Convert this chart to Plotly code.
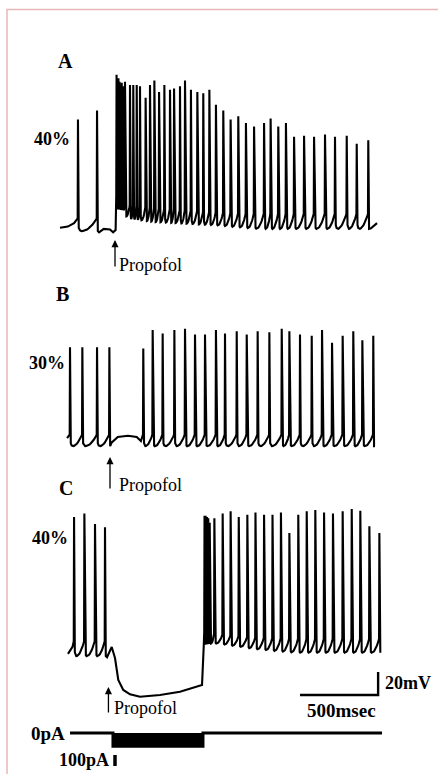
import numpy as np
import plotly.graph_objects as go

# ---------------- data ----------------
# Panel A (40%): spike times (ms) and spike peak potentials (mV)
A_spike_t = [115, 237,
             362, 368, 374, 381, 387, 395, 403,
             416, 448, 469, 491, 512, 548, 576, 604, 634, 668,
             704, 730, 768, 800, 838, 879, 917, 956, 998, 1045,
             1092, 1141, 1190, 1242, 1306, 1348, 1397, 1446, 1498, 1562,
             1626, 1696, 1760, 1835, 1899, 1973]
A_spike_v = [36, 44,
             75, 70, 72, 69, 66, 68, 65,
             69, 66, 66, 66, 65, 55, 66, 70, 60, 66,
             62, 63, 65, 70, 62, 60, 59, 62, 49, 44,
             36, 39, 33, 30, 33, 37, 30, 33, 21, 22,
             21, 23, 21, 22, 15, 18]
# non-spiking stretches of trace A (ms, mV)
A_quiet_t = [0, 50, 90, 108, 250, 280, 320, 340, 356, 1990, 2029]
A_quiet_v = [-58, -57, -54, -51, -62, -59, -59.5, -62, -60, -58.5, -54]
# afterhyperpolarisation trough / firing threshold levels along trace A
A_lvl_t = [0, 355, 362, 405, 420, 600, 1000, 1250, 2030]
A_trough = [-61, -61, -42, -43, -50, -53, -56, -59, -59]
A_thresh = [-50, -50, -30, -32, -38, -41, -45, -46, -46]

# Panel B (30%)
B_spike_t = [64, 143, 237, 316,
             533, 593, 657, 732, 800, 864, 928, 998, 1056, 1131,
             1195, 1265, 1340, 1419, 1468, 1536, 1611, 1677, 1741, 1809,
             1877, 1935, 2005]
B_spike_v = [25, 25, 25, 25,
             24, 40, 37, 40, 41, 36, 36, 40, 37, 39,
             36, 39, 38, 41, 39, 36, 35, 40, 29, 35,
             39, 31, 35]
B_quiet_t = [45, 330, 370, 435, 491, 518, 2016]
B_quiet_v = [-54, -58, -53, -52, -53, -56.5, -61]
B_lvl_t = [0, 2100]
B_trough = [-61, -61]
B_thresh = [-51, -51]

# Panel C (40%)
C_spike_t = [90, 156, 224, 288,
             925, 932, 941, 949, 958,
             988, 1041, 1092, 1144, 1199, 1251, 1306, 1360, 1414, 1468,
             1525, 1579, 1634, 1690, 1747, 1809, 1867, 1922, 1980, 2044]
C_spike_v = [60, 63, 54, 51,
             61, 61, 60, 59, 55,
             59, 63, 65, 60, 62, 64, 62, 62, 64, 46,
             62, 65, 66, 64, 63, 65, 67, 65.5, 52, 46]
C_quiet_t = [51, 80, 301, 331, 352, 373, 405, 448, 512, 640, 768, 896, 909, 920, 2050]
C_quiet_v = [-59, -53, -62, -53, -62.6, -81.7, -90.4, -94.2, -96.3, -94.8, -91.9, -86.7, -86, -52, -58]
C_lvl_t = [0, 300, 900, 960, 1000, 1250, 1500, 2100]
C_trough = [-61, -61, -52, -50, -50, -55, -58, -58]
C_thresh = [-48, -48, -40, -40, -42, -45, -46, -46]

# Injected current (pA)
I_t = [64, 339, 339, 915, 915, 2061]
I_pA = [0, 0, -120, -120, 0, 0]

SCALE_MS = 500
SCALE_MV = 20
SCALE_PA = 100

# ---------------- layout constants ----------------
W, H = 438, 774
MS_PER_PX = 6.4
X0_PX = 60
PX_PER_MV = 1.15
PX_PER_PA = 0.11
FONT = "Liberation Serif"


def yrange(base_px, base_val, px_per_unit):
    return [base_val - (H - base_px) / px_per_unit, base_val + base_px / px_per_unit]


def P(xp, yp):
    return xp / W, 1 - yp / H


def build(spk_t, spk_v, q_t, q_v, lvl_t, lvl_tr, lvl_th, n_ramp=14):
    q_t = np.asarray(q_t, float)
    q_v = np.asarray(q_v, float)
    t_out, v_out = [], []
    m = q_t < spk_t[0]
    t_out += q_t[m].tolist()
    v_out += q_v[m].tolist()
    n = len(spk_t)
    for i in range(n):
        a = spk_t[i]
        prev_isi = a - spk_t[i - 1] if i > 0 else 50
        rise = min(2.0, 0.25 * prev_isi)
        th = float(np.interp(a, lvl_t, lvl_th))
        if not (t_out and abs(t_out[-1] - (a - rise)) < 1e-6):
            t_out.append(a - rise)
            v_out.append(th)
        t_out.append(a)
        v_out.append(spk_v[i])
        b = spk_t[i + 1] if i + 1 < n else np.inf
        isi = b - a if i + 1 < n else 50
        fall = min(5.0, 0.45 * isi)
        tr = float(np.interp(a, lvl_t, lvl_tr))
        m = (q_t > a) & (q_t < b)
        if m.any() or i + 1 == n:
            t_out.append(a + fall)
            v_out.append(tr)
            t_out += q_t[m].tolist()
            v_out += q_v[m].tolist()
        else:
            nrise = min(2.0, 0.25 * isi)
            th2 = float(np.interp(b, lvl_t, lvl_th))
            a1, b1 = a + fall, b - nrise
            u = np.linspace(0, 1, n_ramp)
            c = 0.15
            s = np.where(u >= c, ((u - c) / (1 - c)) ** 2, 0.25 * ((c - u) / c) ** 2)
            t_out += (a1 + u * (b1 - a1)).tolist()
            v_out += (tr + (th2 - tr) * s).tolist()
    return t_out, v_out


fig = go.Figure()
LINE = dict(color="black", width=2.1)

for (st, sv, qt, qv, lt, ltr, lth, ax) in [
    (A_spike_t, A_spike_v, A_quiet_t, A_quiet_v, A_lvl_t, A_trough, A_thresh, "y"),
    (B_spike_t, B_spike_v, B_quiet_t, B_quiet_v, B_lvl_t, B_trough, B_thresh, "y2"),
    (C_spike_t, C_spike_v, C_quiet_t, C_quiet_v, C_lvl_t, C_trough, C_thresh, "y3"),
]:
    tt, vv = build(st, sv, qt, qv, lt, ltr, lth)
    fig.add_trace(go.Scatter(x=tt, y=vv, mode="lines", line=LINE, yaxis=ax,
                             hoverinfo="skip", showlegend=False))

# scale bars (on panel C axes)
sb_t0 = 1536
sb_v0 = -94.8
fig.add_trace(go.Scatter(x=[sb_t0, sb_t0 + SCALE_MS, sb_t0 + SCALE_MS],
                         y=[sb_v0, sb_v0, sb_v0 + SCALE_MV],
                         mode="lines", line=dict(color="black", width=2.4),
                         yaxis="y3", hoverinfo="skip", showlegend=False))

# current trace
fig.add_trace(go.Scatter(x=I_t, y=I_pA, mode="lines", fill="tozeroy",
                         fillcolor="black", line=dict(color="black", width=3),
                         yaxis="y4", hoverinfo="skip", showlegend=False))
fig.add_trace(go.Scatter(x=[352, 352], y=[-200, -200 - SCALE_PA], mode="lines",
                         line=dict(color="black", width=3.5), yaxis="y4",
                         hoverinfo="skip", showlegend=False))

xr = [(0 - X0_PX) * MS_PER_PX, (W - X0_PX) * MS_PER_PX]
hid = dict(visible=False, fixedrange=True)
fig.update_layout(
    width=W, height=H, autosize=False,
    margin=dict(l=0, r=0, t=0, b=0),
    paper_bgcolor="white", plot_bgcolor="white",
    xaxis=dict(range=xr, domain=[0, 1], **hid),
    yaxis=dict(range=yrange(230, -60, PX_PER_MV), domain=[0, 1], **hid),
    yaxis2=dict(range=yrange(445, -60, PX_PER_MV), overlaying="y", **hid),
    yaxis3=dict(range=yrange(655, -60, PX_PER_MV), overlaying="y", **hid),
    yaxis4=dict(range=yrange(733, 0, PX_PER_PA), overlaying="y", **hid),
)

ann = []


def txt(s, xp, yp, size=17, bold=True, xanchor="center"):
    x, y = P(xp, yp)
    ann.append(dict(text=("<b>%s</b>" % s) if bold else s, x=x, y=y, xref="paper",
                    yref="paper", showarrow=False, xanchor=xanchor, yanchor="middle",
                    font=dict(family=FONT, size=size, color="black")))


txt("A", 65, 61, 20)
txt("B", 62, 294, 20)
txt("C", 66, 488, 20)
txt("40%", 52, 139, 18)
txt("30%", 47, 363, 18)
txt("40%", 50, 538, 18)
txt("Propofol", 117, 265, 18, bold=False, xanchor="left")
txt("Propofol", 117, 485, 18, bold=False, xanchor="left")
txt("Propofol", 112, 708, 18, bold=False, xanchor="left")
txt("20mV", 383, 683, 18, xanchor="left")
txt("500msec", 341, 710, 19)
txt("0pA", 67, 733, 19, xanchor="right")
txt("100pA", 111, 760, 18, xanchor="right")

for (t_arrow, tip_px, length) in [(352, 240, 28), (320, 457, 33), (310, 687, 27)]:
    ann.append(dict(x=t_arrow, xref="x", y=1 - tip_px / H, yref="paper", text="",
                    showarrow=True, ax=0, ay=length, arrowhead=2, arrowsize=1.1,
                    arrowwidth=1.3, arrowcolor="black"))

fig.update_layout(annotations=ann)

# pink frame
fig.add_shape(type="rect", xref="paper", yref="paper",
              x0=7 / W, x1=1.05, y0=-0.05, y1=1 - 9.5 / H,
              line=dict(color="#e9b6ba", width=1.5))

fig.write_html("out.html",
               config={"displayModeBar": False, "staticPlot": True},
               post_script="document.body.style.margin='0px';"
                           "document.body.style.overflow='hidden';")
